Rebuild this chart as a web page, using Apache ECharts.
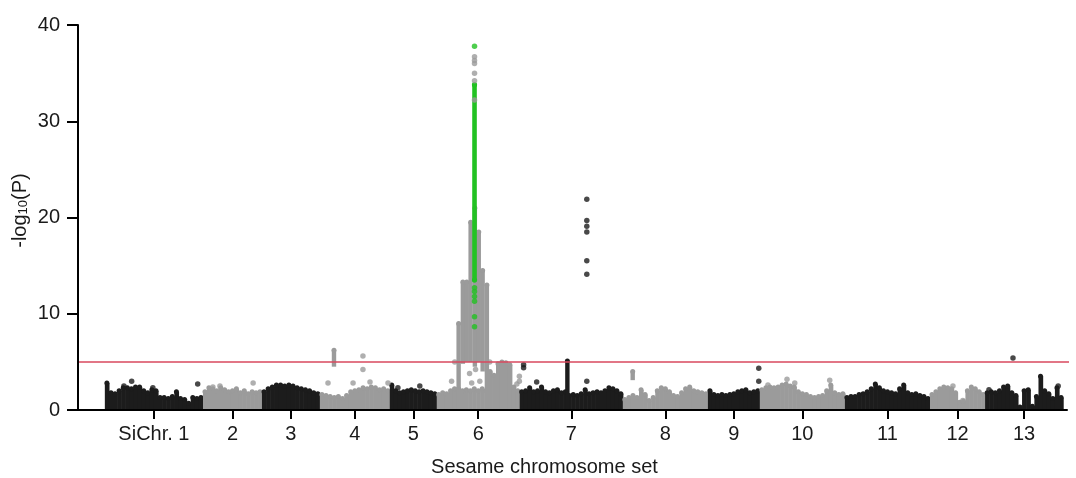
<!DOCTYPE html>
<html>
<head>
<meta charset="utf-8">
<script src="https://cdn.jsdelivr.net/npm/echarts@6/dist/echarts.min.js"></script>
<style>
  html, body { margin: 0; padding: 0; background: #fff; }
  #chart { width: 1076px; height: 478px; }
</style>
</head>
<body>
<div id="chart"></div>
<script>
// chromosomes and their lengths (Mb)
const chromNames = ['SiChr. 1', '2', '3', '4', '5', '6', '7', '8', '9', '10', '11', '12', '13'];
const chromLengths = [27.8, 16.7, 16.4, 19.8, 13.3, 23.5, 29.2, 24.1, 14.7, 24.1, 24.1, 15.6, 22.1];

// top of the dense cloud of SNPs, read evenly along each chromosome
const cloudChr1 = [2.8, 1.8, 1.7, 2.0, 2.3, 2.3, 2.2, 2.4, 2.4, 2.0, 1.8, 2.1, 2.0, 1.3, 1.3, 1.2, 1.4, 1.9, 1.2, 1.1, 0.7, 1.3, 1.2, 1.3];
const cloudChr2 = [1.9, 2.3, 2.2, 2.0, 2.3, 2.1, 1.9, 2.0, 2.2, 1.8, 2.0, 1.7, 1.9, 1.8, 1.9];
const cloudChr3 = [1.9, 2.2, 2.4, 2.6, 2.6, 2.5, 2.6, 2.5, 2.3, 2.2, 2.1, 2.0, 1.8, 1.7];
const cloudChr4 = [1.6, 1.5, 1.4, 1.3, 1.4, 1.2, 1.5, 1.9, 2.0, 2.1, 2.3, 2.2, 2.4, 2.3, 2.1, 2.2, 2.0];
const cloudChr5 = [2.6, 2.0, 1.8, 1.9, 2.0, 2.1, 2.0, 1.9, 2.0, 1.9, 1.8, 1.7];
const cloudChr6 = [1.6, 1.8, 1.7, 2.0, 2.2, 2.2, 2.0, 2.1, 2.0, 2.2, 2.0, 2.2, 2.0, 4.0, 3.6, 4.8, 5.0, 4.9, 4.7, 2.4, 2.0];
const cloudChr7 = [1.9, 2.0, 2.3, 1.9, 2.0, 2.4, 1.9, 1.8, 2.0, 2.1, 1.8, 1.9, 1.5, 1.6, 1.5, 1.7, 2.1, 1.7, 1.8, 1.9, 1.8, 2.0, 2.3, 2.2, 2.0, 1.7];
const cloudChr8 = [1.1, 1.3, 1.5, 1.3, 2.1, 1.6, 1.0, 1.3, 2.0, 2.3, 2.2, 1.9, 1.5, 1.4, 1.8, 2.2, 2.4, 2.0, 1.9, 1.8, 1.7];
const cloudChr9 = [2.0, 1.6, 1.5, 1.6, 1.5, 1.6, 1.7, 1.9, 2.0, 2.1, 1.8, 1.9, 2.0];
const cloudChr10 = [2.1, 2.3, 2.4, 2.3, 2.4, 2.6, 2.7, 2.5, 2.4, 1.9, 1.7, 1.6, 1.4, 1.3, 1.4, 1.5, 2.0, 2.6, 1.8, 1.6, 1.7];
const cloudChr11 = [1.3, 1.4, 1.4, 1.6, 1.7, 1.9, 2.2, 2.7, 2.3, 2.0, 1.9, 1.8, 1.7, 2.2, 2.6, 1.8, 1.6, 1.7, 1.5, 1.4, 1.2];
const cloudChr12 = [1.6, 1.9, 2.2, 2.4, 2.3, 2.2, 1.8, 0.8, 0.9, 2.0, 2.4, 2.2, 1.9, 1.6];
const cloudChr13 = [1.8, 1.9, 1.8, 2.0, 2.4, 2.5, 1.8, 1.5, 0.3, 2.0, 2.1, 0.4, 1.4, 3.5, 2.0, 1.7, 1.2, 2.3, 1.3];
const cloudTops = [cloudChr1, cloudChr2, cloudChr3, cloudChr4, cloudChr5, cloudChr6, cloudChr7,
  cloudChr8, cloudChr9, cloudChr10, cloudChr11, cloudChr12, cloudChr13];

// single SNPs: [chromosome, position Mb, -log10(P)]
const loosePoints = [
  [1, 7.6, 3.0], [1, 26.3, 2.7], [1, 5.4, 2.5], [1, 13.6, 2.3],
  [2, 2.8, 2.4], [2, 4.8, 2.5], [2, 14.2, 2.8],
  [4, 2.3, 2.8], [4, 9.4, 2.8], [4, 14.2, 2.9], [4, 19.3, 2.8], [4, 12.2, 5.6], [4, 12.2, 4.2],
  [5, 2.3, 2.3], [5, 8.5, 2.5],
  [6, 4.2, 3.0], [6, 5.1, 5.0], [6, 9.3, 3.8], [6, 9.9, 2.8], [6, 11.0, 4.2], [6, 12.2, 3.0],
  [6, 15.0, 5.0], [6, 22.7, 2.7], [6, 23.4, 3.5], [6, 23.4, 3.0],
  [6, 10.7, 36.7], [6, 10.7, 36.3], [6, 10.7, 36.0], [6, 10.7, 35.0], [6, 10.7, 34.2], [6, 10.7, 32.2],
  [7, 1.1, 4.7], [7, 1.1, 4.4], [7, 4.8, 2.9], [7, 19.0, 3.0],
  [7, 19.0, 21.9], [7, 19.0, 19.7], [7, 19.0, 19.1], [7, 19.0, 18.5], [7, 19.0, 15.5], [7, 19.0, 14.1],
  [9, 14.4, 4.35], [9, 14.4, 3.0],
  [10, 2.3, 2.6], [10, 7.7, 3.2], [10, 9.9, 2.8], [10, 19.8, 3.1],
  [12, 6.5, 2.5], [12, 9.3, 1.0],
  [13, 1.1, 2.1], [13, 7.9, 5.4], [13, 20.7, 2.5]
];

// stacked runs of SNPs: [chromosome, position Mb, from, to]
const stackedRuns = [
  [4, 4.0, 4.5, 6.2],
  [6, 6.2, 0, 9.0], [6, 7.4, 4.8, 13.3], [6, 8.5, 5.0, 13.3], [6, 9.6, 5.0, 19.5],
  [6, 10.8, 4.5, 21.0], [6, 11.9, 5.0, 18.5], [6, 13.0, 4.0, 14.5], [6, 14.2, 0, 13.0],
  [7, 13.5, 0, 5.1],
  [8, 2.8, 3.1, 4.0]
];

// highlighted SNPs of the chr6 peak
const greenRuns = [[6, 10.7, 13.5, 33.8]];
const greenPoints = [[6, 10.7, 37.8], [6, 10.7, 12.7], [6, 10.7, 12.3], [6, 10.7, 11.8],
  [6, 10.7, 11.3], [6, 10.7, 9.7], [6, 10.7, 8.65]];

// genome-wide significance threshold and x extent of the plot (Mb)
const threshold = 5;
const xRange = [-7.6, 272.5];
const thresholdEnd = 275.0;
const yTicks = [0, 10, 20, 30, 40];

const BLACK = '#1c1c1c';
const GREY = '#9b9b9b';
const GREEN = '#22c222';

const chromStart = [];
let acc = 0;
chromLengths.forEach(function (len) { chromStart.push(acc); acc += len; });
const chromCenter = chromLengths.map(function (len, i) { return chromStart[i] + len / 2; });
const chromColor = function (c) { return c % 2 === 1 ? BLACK : GREY; };

const cloudData = [];
cloudTops.forEach(function (tops, i) {
  const step = chromLengths[i] / tops.length;
  tops.forEach(function (h, j) {
    cloudData.push([chromStart[i] + (j + 0.5) * step, h, step / 2, i + 1]);
  });
});
const toAbs = function (rows) {
  return rows.map(function (r) { return [chromStart[r[0] - 1] + r[1], r[2], r[0]]; });
};
const toRuns = function (rows) {
  return rows.map(function (r) { return [chromStart[r[0] - 1] + r[1], r[2], r[3], r[0]]; });
};

const chart = echarts.init(document.getElementById('chart'), null, { renderer: 'canvas' });

const option = {
  animation: false,
  grid: { left: 78, right: 9, top: 25, bottom: 68, containLabel: false, outerBoundsMode: 'none' },
  xAxis: {
    type: 'value',
    min: xRange[0],
    max: xRange[1],
    z: 10,
    name: 'Sesame chromosome set',
    nameLocation: 'middle',
    nameGap: 47,
    nameMoveOverlap: false,
    nameTextStyle: { fontFamily: 'Liberation Sans', fontSize: 20, color: '#1a1a1a', padding: [0, 56, 0, 0] },
    splitLine: { show: false },
    axisLine: { onZero: false, lineStyle: { color: '#000', width: 2 } },
    axisTick: { customValues: chromCenter, length: 9, lineStyle: { color: '#000', width: 2 } },
    axisLabel: {
      customValues: chromCenter,
      margin: 14,
      fontFamily: 'Liberation Sans',
      fontSize: 20,
      color: '#1a1a1a',
      formatter: function (v) {
        let best = 0;
        chromCenter.forEach(function (c, i) {
          if (Math.abs(c - v) < Math.abs(chromCenter[best] - v)) best = i;
        });
        return chromNames[best];
      }
    }
  },
  yAxis: {
    type: 'value',
    min: yTicks[0],
    max: yTicks[yTicks.length - 1],
    interval: 10,
    z: 10,
    name: '-log{s|10}(P)',
    nameLocation: 'middle',
    nameGap: 48,
    nameMoveOverlap: false,
    nameTextStyle: {
      fontFamily: 'Liberation Sans', fontSize: 20, color: '#1a1a1a', padding: [0, 0, 0, 14],
      rich: { s: { fontSize: 13, padding: [7, 0, 0, 0], fontFamily: 'Liberation Sans', color: '#1a1a1a' } }
    },
    splitLine: { show: false },
    axisLine: { show: true, onZero: false, lineStyle: { color: '#000', width: 2 } },
    axisTick: { show: true, length: 11, lineStyle: { color: '#000', width: 2 } },
    axisLabel: { margin: 18, fontFamily: 'Liberation Sans', fontSize: 20, color: '#1a1a1a' }
  },
  series: [
    {
      type: 'custom',
      name: 'cloud',
      data: cloudData,
      renderItem: function (params, api) {
        const x = api.value(0), h = api.value(1), hw = api.value(2);
        const p0 = api.coord([x - hw, 0]);
        const p1 = api.coord([x + hw, h]);
        const color = chromColor(api.value(3));
        return {
          type: 'group',
          children: [
            { type: 'rect', shape: { x: p0[0], y: p1[1], width: p1[0] - p0[0] + 0.6, height: p0[1] - p1[1] }, style: { fill: color } },
            { type: 'circle', shape: { cx: (p0[0] + p1[0]) / 2, cy: p1[1], r: 2.5 }, style: { fill: color } }
          ]
        };
      }
    },
    {
      type: 'custom',
      name: 'runs',
      data: toRuns(stackedRuns),
      renderItem: function (params, api) {
        const a = api.coord([api.value(0), api.value(1)]);
        const b = api.coord([api.value(0), api.value(2)]);
        const color = chromColor(api.value(3));
        return {
          type: 'group',
          children: [
            { type: 'rect', shape: { x: a[0] - 2.2, y: b[1], width: 4.4, height: a[1] - b[1] }, style: { fill: color } },
            { type: 'circle', shape: { cx: a[0], cy: b[1], r: 2.5 }, style: { fill: color } }
          ]
        };
      }
    },
    {
      type: 'scatter',
      name: 'snps',
      symbolSize: 5.5,
      data: toAbs(loosePoints),
      itemStyle: { color: function (p) { return chromColor(p.value[2]); } }
    },
    {
      type: 'line',
      name: 'threshold',
      data: [[xRange[0], threshold], [thresholdEnd, threshold]],
      clip: false,
      showSymbol: false,
      silent: true,
      lineStyle: { color: '#d9485e', width: 1.5 }
    },
    {
      type: 'custom',
      name: 'peak',
      data: toRuns(greenRuns),
      renderItem: function (params, api) {
        const a = api.coord([api.value(0), api.value(1)]);
        const b = api.coord([api.value(0), api.value(2)]);
        return {
          type: 'group',
          children: [
            { type: 'rect', shape: { x: a[0] - 2.3, y: b[1], width: 4.6, height: a[1] - b[1] }, style: { fill: GREEN } },
            { type: 'circle', shape: { cx: a[0], cy: b[1], r: 2.6 }, style: { fill: GREEN } },
            { type: 'circle', shape: { cx: a[0], cy: a[1], r: 2.6 }, style: { fill: GREEN } }
          ]
        };
      }
    },
    {
      type: 'scatter',
      name: 'peak snps',
      symbolSize: 5.5,
      data: toAbs(greenPoints),
      itemStyle: { color: GREEN }
    }
  ]
};

chart.setOption(option);
window.addEventListener('resize', chart.resize);
</script>
</body>
</html>
